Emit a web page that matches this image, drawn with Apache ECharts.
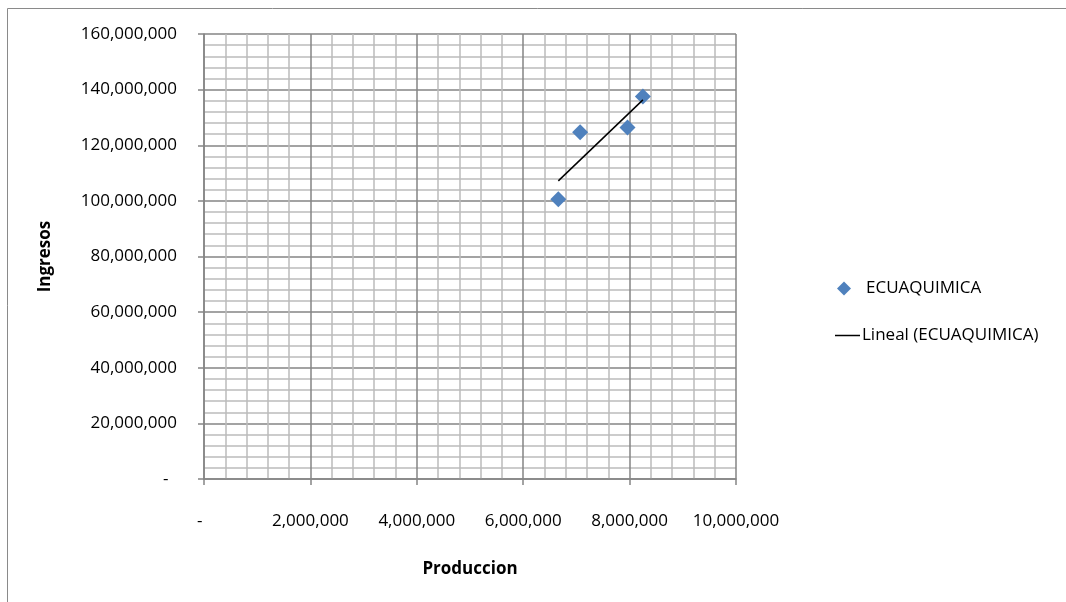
<!DOCTYPE html>
<html>
<head>
<meta charset="utf-8">
<style>
  html, body { margin: 0; padding: 0; background: #fff; }
  #chart { width: 1066px; height: 602px; }
</style>
<script src="https://cdn.jsdelivr.net/npm/echarts@6/dist/echarts.min.js"></script>
</head>
<body>
<div id="chart"></div>
<script>
// Producción vs. ingresos de ECUAQUIMICA
const produccion = [6660000, 7070000, 7960000, 8250000];
const ingresos   = [100600000, 124700000, 126400000, 137500000];
const seriesName = 'ECUAQUIMICA';
const trendName  = 'Lineal (ECUAQUIMICA)';
const xTickLabels = ['-', '2,000,000', '4,000,000', '6,000,000', '8,000,000', '10,000,000'];
const yTickLabels = ['-', '20,000,000', '40,000,000', '60,000,000', '80,000,000', '100,000,000', '120,000,000', '140,000,000', '160,000,000'];

// least-squares trend line across the observed production range
function linearFit(xs, ys) {
  const n = xs.length;
  const mx = xs.reduce((a, b) => a + b, 0) / n;
  const my = ys.reduce((a, b) => a + b, 0) / n;
  let sxy = 0, sxx = 0;
  for (let i = 0; i < n; i++) {
    sxy += (xs[i] - mx) * (ys[i] - my);
    sxx += (xs[i] - mx) * (xs[i] - mx);
  }
  const slope = sxy / sxx;
  return x => my + slope * (x - mx);
}
const fit = linearFit(produccion, ingresos);
const xMin = Math.min(...produccion), xMax = Math.max(...produccion);
const trendData = [[xMin, fit(xMin)], [xMax, fit(xMax)]];

const FONT = 'Open Sans';
const MAJOR = '#858585';
const MINOR = '#bcbcbc';

const chart = echarts.init(document.getElementById('chart'), null, { renderer: 'canvas' });
chart.setOption({
  animation: false,
  textStyle: { fontFamily: FONT },
  graphic: [{
    type: 'rect', silent: true, z: -10,
    shape: { x: 7.5, y: 8.5, width: 1080, height: 620 },
    style: { fill: 'none', stroke: '#8a8a8a', lineWidth: 1 }
  }],
  grid: { left: 204, top: 34, right: 330, bottom: 123, containLabel: false },
  xAxis: {
    type: 'value', min: 0, max: 10000000, interval: 2000000,
    name: 'Produccion', nameLocation: 'middle', nameGap: 82,
    nameTextStyle: { fontFamily: FONT, fontSize: 17, fontWeight: 'bold', color: '#000' },
    axisLine: { show: true, lineStyle: { color: MAJOR, width: 1.5 } },
    axisTick: { show: true, length: 6, lineStyle: { color: MAJOR, width: 1.5 } },
    axisLabel: {
      margin: 34, fontSize: 17, color: '#000', fontFamily: FONT,
      formatter: (v) => { const i = Math.round(v / 2000000); return i === 0 ? xTickLabels[0] + '\u2002' : xTickLabels[i]; }
    },
    splitLine: { show: true, lineStyle: { color: MAJOR, width: 1.5 } },
    minorTick: { show: false, splitNumber: 5 },
    minorSplitLine: { show: true, lineStyle: { color: MINOR, width: 1.5 } }
  },
  yAxis: {
    type: 'value', min: 0, max: 160000000, interval: 20000000,
    name: 'Ingresos', nameLocation: 'middle', nameGap: 150, nameRotate: 90,
    nameTextStyle: { fontFamily: FONT, fontSize: 17, fontWeight: 'bold', color: '#000' },
    axisLine: { show: true, lineStyle: { color: MAJOR, width: 1.5 } },
    axisTick: { show: true, length: 6, lineStyle: { color: MAJOR, width: 1.5 } },
    axisLabel: {
      margin: 27, fontSize: 17, color: '#000', fontFamily: FONT,
      formatter: (v) => { const i = Math.round(v / 20000000); return i === 0 ? yTickLabels[0] + '\u2002' : yTickLabels[i]; }
    },
    splitLine: { show: true, lineStyle: { color: MAJOR, width: 1.5 } },
    minorTick: { show: false, splitNumber: 5 },
    minorSplitLine: { show: true, lineStyle: { color: MINOR, width: 1.5 } }
  },
  legend: [{
    orient: 'vertical', left: 832, top: 275,
    data: [{ name: seriesName, icon: 'diamond' }],
    itemWidth: 14, itemHeight: 14,
    textStyle: { fontFamily: FONT, fontSize: 17, color: '#000', padding: [0, 0, 0, 10] },
    selectedMode: false
  }, {
    orient: 'vertical', left: 830, top: 322,
    data: [{ name: trendName, icon: 'rect', itemStyle: { color: '#000' } }],
    itemWidth: 25, itemHeight: 1.5,
    textStyle: { fontFamily: FONT, fontSize: 17, color: '#000', padding: [0, 0, 0, -3] },
    selectedMode: false
  }],
  series: [{
    name: seriesName, type: 'scatter', symbol: 'diamond', symbolSize: 16,
    itemStyle: { color: '#4f81bd', opacity: 1 },
    data: produccion.map((x, i) => [x, ingresos[i]]),
    z: 3
  }, {
    name: trendName, type: 'line', symbol: 'none', showSymbol: false,
    itemStyle: { color: '#000' },
    lineStyle: { color: '#000', width: 1.5 },
    data: trendData, z: 4
  }]
});
</script>
</body>
</html>
